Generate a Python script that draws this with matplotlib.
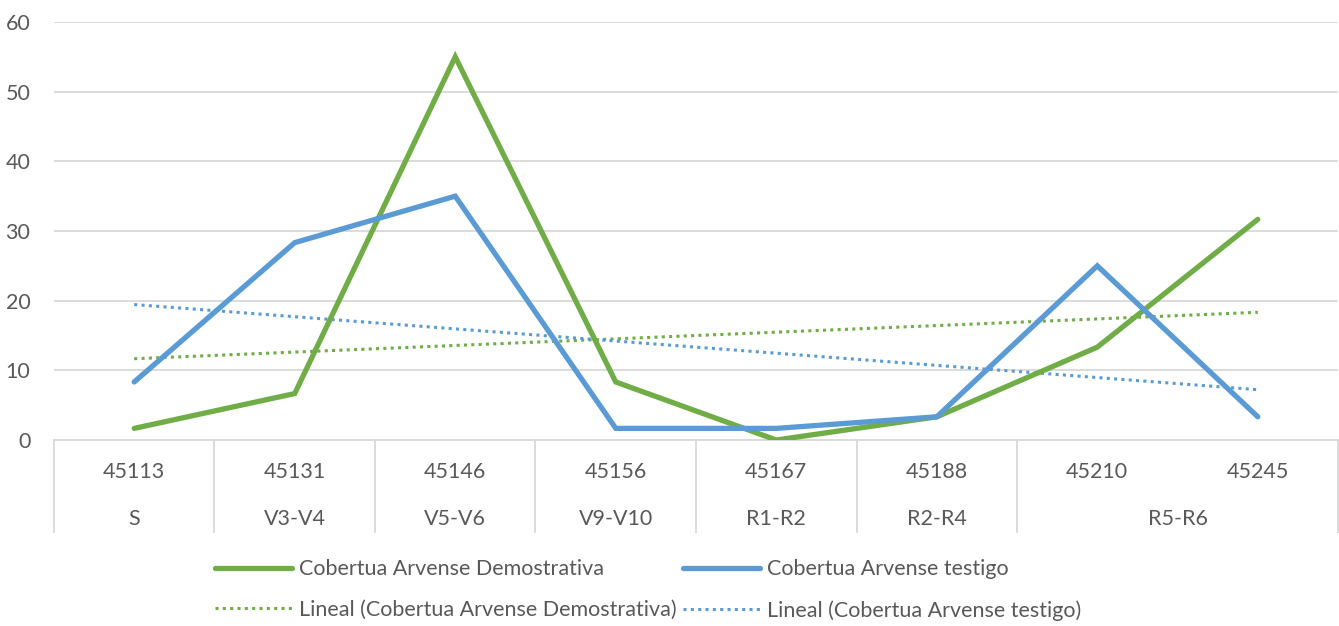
import numpy as np
import matplotlib.pyplot as plt
import matplotlib.transforms as mtransforms
from matplotlib.lines import Line2D

# data
fechas = ["45113", "45131", "45146", "45156", "45167", "45188", "45210", "45245"]
etapas = ["S", "V3-V4", "V5-V6", "V9-V10", "R1-R2", "R2-R4", "R5-R6"]
etapa_n = [1, 1, 1, 1, 1, 1, 2]
demostrativa = [1.67, 6.67, 55.0, 8.33, 0.0, 3.33, 13.33, 31.67]
testigo = [8.33, 28.33, 35.0, 1.67, 1.67, 3.33, 25.0, 3.33]

verde = "#70AD47"
azul = "#5B9BD5"
gris = "#D9D9D9"
texto = "#595959"
fs = 15.5

plt.rcParams['font.family'] = ['Lato', 'DejaVu Sans']

fig = plt.figure(figsize=(13.39, 6.26), dpi=100)
ax = fig.add_axes([0.0403, 0.2971, 0.9590, 0.6678])

x = np.arange(len(fechas))
ax.plot(x, demostrativa, color=verde, lw=3.8, solid_capstyle='round', solid_joinstyle='miter', zorder=3)
ax.plot(x, testigo, color=azul, lw=3.8, solid_capstyle='round', solid_joinstyle='miter', zorder=3)

# linear trend lines (Excel "Lineal")
xt = x + 1
p_dem = np.polyfit(xt, demostrativa, 1)
p_tes = np.polyfit(xt, testigo, 1)
ax.plot(x, np.polyval(p_dem, xt), color=verde, lw=2.2, ls=(0, (1, 1.4)), zorder=2)
ax.plot(x, np.polyval(p_tes, xt), color=azul, lw=2.2, ls=(0, (1, 1.4)), zorder=2)

ax.set_xlim(-0.5, len(fechas) - 0.5)
ax.set_ylim(0, 60)
ax.set_yticks(range(0, 61, 10))
ax.yaxis.grid(True, color=gris, lw=1.3)
ax.set_axisbelow(True)
ax.tick_params(axis='y', length=0, pad=17, labelsize=fs, labelcolor=texto)
ax.tick_params(axis='x', length=0, labelbottom=False)
for s in ['top', 'right', 'left']:
    ax.spines[s].set_visible(False)
ax.spines['bottom'].set_color(gris)
ax.spines['bottom'].set_linewidth(1.3)

# two-level category labels
trans = mtransforms.blended_transform_factory(ax.transData, ax.transAxes)
for i, f in enumerate(fechas):
    ax.text(i, -0.076, f, transform=trans, ha='center', va='center', fontsize=fs, color=texto)
inicio = 0
bordes = [-0.5]
for etq, n in zip(etapas, etapa_n):
    centro = inicio + (n - 1) / 2
    ax.text(centro, -0.188, etq, transform=trans, ha='center', va='center', fontsize=fs, color=texto)
    inicio += n
    bordes.append(inicio - 0.5)
for b in bordes:
    ax.plot([b, b], [0, -0.22], transform=trans, color=gris, lw=1.3, clip_on=False)

# legend: column-wise fill -> row 1 solid lines, row 2 trend lines
handles = [
    Line2D([], [], color=verde, lw=3.8, solid_capstyle='round'),
    Line2D([], [], color=verde, lw=2.2, ls=(0, (1, 1.4))),
    Line2D([], [], color=azul, lw=3.8, solid_capstyle='round'),
    Line2D([], [], color=azul, lw=2.2, ls=(0, (1, 1.4))),
]
labels = [
    "Cobertua Arvense Demostrativa",
    "Lineal (Cobertua Arvense Demostrativa)",
    "Cobertua Arvense testigo",
    "Lineal (Cobertua Arvense testigo)",
]
fig.legend(handles, labels, ncol=2, loc='center', bbox_to_anchor=(0.484, 0.0575),
           frameon=False, fontsize=fs, labelcolor=texto, handlelength=3.6,
           handletextpad=0.3, columnspacing=0.3, labelspacing=0.95,
           borderpad=0, borderaxespad=0)

fig.savefig("out.png", dpi=100)
